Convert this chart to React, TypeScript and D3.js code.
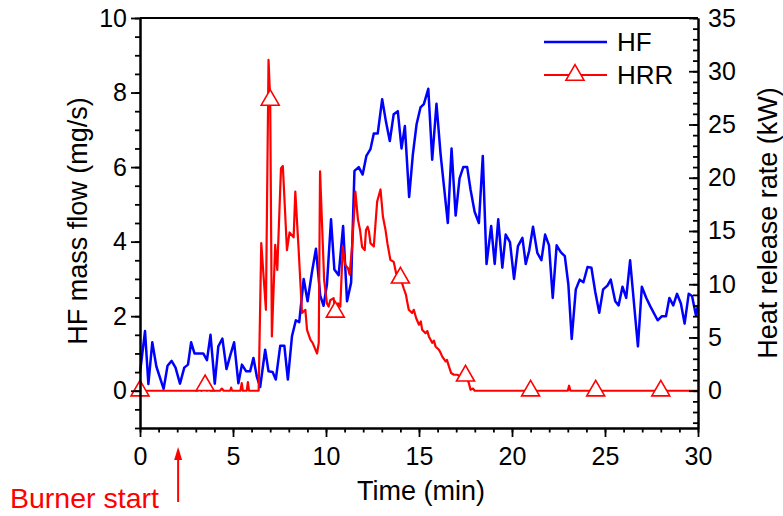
import React, { useEffect, useRef } from "react";
import * as d3 from "d3";

// HF mass flow (mg/s) vs time (min)
const hfTime = [
  0, 0.27, 0.45, 0.66, 0.88, 1.27, 1.48, 1.7, 1.91, 2.15, 2.38, 2.58, 2.75, 2.93,
  3.4, 3.6, 3.79, 4.02, 4.21, 4.43, 4.65, 4.86, 5.06, 5.29, 5.48, 5.71, 5.92,
  6.1, 6.28, 6.46, 6.73, 6.91, 7.13, 7.3, 7.54, 7.76, 7.95, 8.17, 8.38, 8.56,
  8.8, 9.01, 9.25, 9.46, 9.69, 9.87, 10.05, 10.27, 10.45, 10.68, 10.92, 11.13,
  11.35, 11.53, 11.76, 11.97, 12.17, 12.39, 12.57, 12.78, 13.02, 13.23, 13.43,
  13.64, 13.86, 14.06, 14.24, 14.47, 14.67, 14.87, 15.08, 15.26, 15.5, 15.71,
  15.94, 16.16, 16.55, 16.75, 16.97, 17.18, 17.38, 17.59, 17.77, 17.99, 18.22,
  18.43, 18.63, 18.88, 19.07, 19.26, 19.48, 19.66, 19.89, 20.11, 20.32, 20.56,
  20.74, 20.92, 21.13, 21.36, 21.58, 21.78, 21.99, 22.19, 22.4, 22.62, 22.84,
  23.03, 23.21, 23.43, 23.64, 23.84, 24.06, 24.27, 24.47, 24.69, 24.9, 25.13,
  25.31, 25.55, 25.73, 25.94, 26.14, 26.35, 26.57, 26.77, 26.98, 27.22, 27.43,
  27.83, 28.06, 28.28, 28.46, 28.67, 28.87, 29.08, 29.28, 29.5, 29.68, 29.89, 30,
];
const hfFlow = [
  0.48, 1.6, 0.18, 1.3, 0.65, 0.05, 0.67, 0.8, 0.62, 0.19, 0.62, 0.7, 1.3, 1.0,
  1.0, 0.82, 1.5, 0.19, 1.19, 1.4, 0.58, 0.96, 1.3, 0.2, 0.7, 0.52, 0.52,
  0.88, 0.38, 0.1, 1.1, 0.52, 0.5, 0.3, 1.21, 1.21, 0.3, 1.46, 1.89, 1.84,
  3.0, 2.4, 3.2, 3.81, 2.55, 2.28, 2.85, 4.6, 3.25, 3.1, 4.42, 2.4,
  2.9, 5.9, 6.0, 5.8, 6.3, 6.48, 6.9, 6.9, 7.82, 7.2, 6.7,
  7.42, 7.5, 6.5, 7.1, 5.2, 6.34, 7.15, 7.6, 7.69, 8.1, 6.2,
  7.7, 6.35, 4.5, 6.5, 4.7, 5.7, 6.0, 6.0, 5.4, 4.8, 4.5,
  6.3, 3.4, 4.42, 3.4, 4.6, 3.3, 4.19, 3.99, 3.0, 3.88, 4.1,
  3.4, 3.75, 4.4, 3.7, 3.5, 4.19, 3.9, 2.49, 3.9, 3.72, 3.61,
  2.85, 1.39, 2.72, 2.98, 2.91, 3.32, 3.3, 2.67, 2.09, 2.72, 2.82,
  2.98, 2.4, 2.29, 2.79, 2.49, 3.5, 2.28, 1.19, 2.79, 2.49, 2.27,
  1.89, 2.0, 2.0, 2.49, 2.29, 2.6, 2.34, 1.8, 2.6, 2.54, 2.02, 2.3,
];

// heat release rate (kW) vs time (min)
const hrrTime = [
  0, 3.1, 3.2, 3.3, 3.4, 3.5, 3.6, 3.7, 3.8, 4.3, 4.4, 4.5, 4.85, 4.9, 4.95,
  5.4, 5.47, 5.53, 5.74, 5.8, 5.86, 6.38, 6.52, 6.77, 6.91, 7.0, 7.09, 7.27,
  7.38, 7.58, 7.68, 7.9, 8.04, 8.26, 8.35, 8.53, 8.71, 8.89, 8.98, 9.16, 9.28,
  9.52, 9.61, 9.68, 9.9, 10.05, 10.14, 10.23, 10.41, 10.5, 10.65, 10.77, 10.9,
  11.04, 11.18, 11.27, 11.4, 11.58, 11.72, 11.83, 11.94, 12.08, 12.15, 12.24,
  12.31, 12.39, 12.57, 12.75, 12.93, 13.06, 13.2, 13.3, 13.46, 13.64, 13.77,
  14.0, 14.18, 14.3, 14.36, 14.45, 14.63, 14.72, 14.85, 15.0, 15.1, 15.17,
  15.35, 15.45, 15.53, 15.71, 15.8, 15.89, 16.07, 16.15, 16.25, 16.43, 16.5,
  16.61, 16.73, 16.88, 17.06, 17.25, 17.5, 17.68, 17.77, 17.9, 18.0, 21.0,
  23.0, 23.07, 23.14, 24.5, 28.0, 30,
];
const hrrPower = [
  0, 0, 0.25, 0, 0.3, 0.5, 0, 0.3, 0, 0, 0.2, 0, 0, 0.3, 0,
  0, 0.72, 0, 0, 0.8, 0, 0, 13.86, 7.6, 31.06, 27.3, 5.1, 13.7,
  11.35, 20.9, 21.1, 13.2, 14.86, 14.4, 18.7, 13.2, 7.3, 7.6, 5.72, 4.8, 4.5,
  3.5, 4.5, 20.6, 10.4, 8.2, 7.9, 8.5, 8.7, 7.4, 8.2, 7.9, 13.5,
  11.8, 11.5, 10.9, 13.5, 18.7, 16.05, 15.1, 13.5, 13.2, 15.1, 15.4,
  14.95, 13.86, 13.54, 17.76, 18.9, 16.36, 15.1, 13.86, 12.3, 12.1, 11.04,
  10.6, 9.6, 9.0, 8.4, 7.6, 7.3, 7.6, 6.8, 6.2, 6.5, 5.72,
  5.4, 5.6, 5.1, 4.5, 4.7, 4.16, 3.85, 3.6, 3.2, 2.75, 2.9,
  2.28, 1.66, 1.5, 1.5, 1.3, 1.4, 0.72, 0.1, 0.2, 0, 0,
  0, 0.47, 0, 0, 0, 0,
];
const hrrMarkerTimes = [0, 3.5, 7, 10.5, 14, 17.5, 21, 24.5, 28];

const timeTicks = [0, 5, 10, 15, 20, 25, 30];
const flowTicks = [0, 2, 4, 6, 8, 10];
const powerTicks = [0, 5, 10, 15, 20, 25, 30, 35];
const burnerStart = 2.05;

const font = "'Liberation Sans', Arial, sans-serif";

const App = () => {
  const chartRef = useRef(null);

  useEffect(() => {
    const left = 140;
    const right = 698;
    const top = 18;
    const bottom = 428;

    const svg = d3.select(chartRef.current);
    svg.selectAll("*").remove();

    const x = d3.scaleLinear().domain([0, 30]).range([left, right]);
    const yFlow = d3.scaleLinear().domain([-1, 10]).range([bottom, top]);
    const yPower = d3.scaleLinear().domain([-3.5, 35]).range([bottom, top]);

    const hf = hfTime.map((t, i) => ({ t, v: hfFlow[i] }));
    const hrr = hrrTime.map((t, i) => ({ t, v: hrrPower[i] }));

    svg.append("rect").attr("width", 783).attr("height", 516).attr("fill", "#fff");

    // lines
    const hfLine = d3.line().x((d) => x(d.t)).y((d) => yFlow(d.v));
    const hrrLine = d3.line().x((d) => x(d.t)).y((d) => yPower(d.v));

    svg
      .append("path")
      .datum(hf)
      .attr("d", hfLine)
      .attr("fill", "none")
      .attr("stroke", "#0000ff")
      .attr("stroke-width", 2.5)
      .attr("stroke-linejoin", "round");

    svg
      .append("path")
      .datum(hrr)
      .attr("d", hrrLine)
      .attr("fill", "none")
      .attr("stroke", "#ff0000")
      .attr("stroke-width", 2.2)
      .attr("stroke-linejoin", "round");

    const tri = d3.symbol(d3.symbolTriangle, 140);
    svg
      .selectAll(".marker")
      .data(hrr.filter((d) => hrrMarkerTimes.includes(d.t)))
      .join("path")
      .attr("class", "marker")
      .attr("d", tri)
      .attr("transform", (d) => `translate(${x(d.t)},${yPower(d.v)})`)
      .attr("fill", "#fff")
      .attr("stroke", "#ff0000")
      .attr("stroke-width", 1.6);

    // axes
    const styleAxis = (g) => {
      g.select(".domain").attr("stroke-width", 2);
      g.selectAll(".tick line").attr("stroke-width", 1.8);
      g.selectAll("text").attr("font-family", font).attr("font-size", 25).attr("fill", "#000");
    };

    svg
      .append("g")
      .attr("transform", `translate(${left},0)`)
      .call(d3.axisLeft(yFlow).tickValues(d3.range(-1, 10.01, 0.5)).tickSize(5).tickSizeOuter(0).tickFormat(() => ""))
      .call(styleAxis);
    svg
      .append("g")
      .attr("transform", `translate(${left},0)`)
      .call(d3.axisLeft(yFlow).tickValues(flowTicks).tickSize(9).tickSizeOuter(0).tickPadding(4))
      .call(styleAxis);

    svg
      .append("g")
      .attr("transform", `translate(0,${bottom})`)
      .call(d3.axisBottom(x).tickValues(d3.range(0, 31, 1)).tickSize(4.5).tickSizeOuter(0).tickFormat(() => ""))
      .call(styleAxis);
    svg
      .append("g")
      .attr("transform", `translate(0,${bottom})`)
      .call(d3.axisBottom(x).tickValues(timeTicks).tickSize(9).tickSizeOuter(0).tickPadding(10))
      .call(styleAxis);

    svg
      .append("g")
      .attr("transform", `translate(${right},0)`)
      .call(d3.axisRight(yPower).tickValues(d3.range(-3, 35.01, 1)).tickSizeInner(-5).tickSizeOuter(0).tickFormat(() => ""))
      .call(styleAxis);
    svg
      .append("g")
      .attr("transform", `translate(${right},0)`)
      .call(d3.axisRight(yPower).tickValues(powerTicks).tickSizeInner(-9).tickSizeOuter(0).tickPadding(10))
      .call(styleAxis);

    svg
      .append("line")
      .attr("x1", left)
      .attr("x2", right)
      .attr("y1", top)
      .attr("y2", top)
      .attr("stroke", "#000")
      .attr("stroke-width", 2);

    // axis titles
    svg
      .append("text")
      .attr("x", 421)
      .attr("y", 500)
      .attr("text-anchor", "middle")
      .attr("font-family", font)
      .attr("font-size", 27)
      .text("Time (min)");
    svg
      .append("text")
      .attr("transform", "translate(87,221) rotate(-90)")
      .attr("text-anchor", "middle")
      .attr("font-family", font)
      .attr("font-size", 27)
      .text("HF mass flow (mg/s)");
    svg
      .append("text")
      .attr("transform", "translate(777,223) rotate(-90)")
      .attr("text-anchor", "middle")
      .attr("font-family", font)
      .attr("font-size", 27)
      .text("Heat release rate (kW)");

    // legend
    const legend = svg.append("g").attr("font-family", font).attr("font-size", 26);
    legend.append("line").attr("x1", 544).attr("x2", 607).attr("y1", 42).attr("y2", 42)
      .attr("stroke", "#0000ff").attr("stroke-width", 2.5);
    legend.append("text").attr("x", 617).attr("y", 51).text("HF");
    legend.append("line").attr("x1", 544).attr("x2", 607).attr("y1", 75).attr("y2", 75)
      .attr("stroke", "#ff0000").attr("stroke-width", 2.2);
    legend.append("path").attr("d", tri).attr("transform", "translate(575,75)")
      .attr("fill", "#fff").attr("stroke", "#ff0000").attr("stroke-width", 1.6);
    legend.append("text").attr("x", 617).attr("y", 84).text("HRR");

    // burner start annotation
    const ax = x(burnerStart);
    svg.append("line").attr("x1", ax).attr("x2", ax).attr("y1", 502).attr("y2", 456)
      .attr("stroke", "#ff0000").attr("stroke-width", 2);
    svg.append("path")
      .attr("d", `M${ax},447 L${ax - 4},460 L${ax + 4},460 Z`)
      .attr("fill", "#ff0000");
    svg.append("text")
      .attr("x", 10)
      .attr("y", 508)
      .attr("font-family", font)
      .attr("font-size", 28.5)
      .attr("fill", "#ff0000")
      .text("Burner start");
  }, []);

  return (
    <svg
      ref={chartRef}
      width={783}
      height={516}
      style={{ position: "absolute", left: 0, top: 0 }}
    />
  );
};

export default App;
